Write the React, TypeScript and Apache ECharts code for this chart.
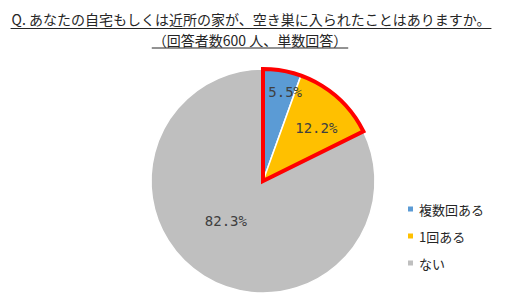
import React, { useEffect, useRef } from "react";
import * as echarts from "echarts";

const categories = ["複数回ある", "1回ある", "ない"];
const values = [5.5, 12.2, 82.3];
const colors = ["#5B9BD5", "#FFC000", "#BFBFBF"];
const highlightedIndices = [0, 1];
const titleLines = [
  "Q. あなたの自宅もしくは近所の家が、空き巣に入られたことはありますか。",
  "（回答者数600 人、単数回答）",
];
const labelOffsets = [
  [12, -31],
  [14, -9],
  [-6, -10],
];

const TITLE_FONT = "14px 'Noto Sans CJK JP'";

function measure(text: string, font: string): number {
  const c = document.createElement("canvas");
  const ctx = c.getContext("2d");
  if (!ctx) return text.length * 14;
  ctx.font = font;
  return ctx.measureText(text).width;
}

export default function App() {
  const ref = useRef<HTMLDivElement>(null);

  useEffect(() => {
    if (!ref.current) return;
    const chart = echarts.init(ref.current, null, { renderer: "svg" });

    const titleCenters = [251, 250];
    const titleY = [19, 40];
    const underlineY = [28.5, 48];
    const graphics: any[] = [];
    titleLines.forEach((t, i) => {
      const w = measure(t, TITLE_FONT);
      graphics.push({
        type: "text",
        x: titleCenters[i],
        y: titleY[i],
        style: {
          text: t,
          font: TITLE_FONT,
          fill: "#262626",
          align: "center",
          verticalAlign: "middle",
        },
      });
      graphics.push({
        type: "line",
        shape: {
          x1: titleCenters[i] - w / 2 - 1,
          y1: underlineY[i],
          x2: titleCenters[i] + w / 2 + 1,
          y2: underlineY[i],
        },
        style: { stroke: "#262626", lineWidth: 1 },
      });
    });

    const hlSum = highlightedIndices.reduce((s, i) => s + values[i], 0);
    const restSum = values.reduce((s, v) => s + v, 0) - hlSum;

    chart.setOption({
      animation: false,
      backgroundColor: "#ffffff",
      graphic: graphics,
      legend: {
        data: categories,
        orient: "vertical",
        left: 401,
        top: 197,
        itemWidth: 7,
        itemHeight: 7,
        itemGap: 13,
        icon: "rect",
        textStyle: {
          fontFamily: "'Noto Sans CJK JP'",
          fontSize: 13,
          color: "#262626",
          lineHeight: 14,
          padding: [0, 0, 0, 0],
        },
        selectedMode: false,
      },
      series: [
        {
          type: "pie",
          center: [263, 181],
          radius: [0, 112],
          startAngle: 90,
          clockwise: true,
          silent: true,
          data: categories.map((name, i) => ({
            name,
            value: values[i],
            itemStyle: { color: colors[i] },
          })),
          itemStyle: { borderColor: "#ffffff", borderWidth: 1.5 },
          label: {
            show: true,
            position: "inside",
            formatter: (p: any) => `${Number(p.value).toFixed(1)}%`,
            fontFamily: "'DejaVu Sans Mono'",
            fontSize: 14,
            color: "#404040",
          },
          labelLine: { show: false },
          labelLayout: (p: any) => ({
            dx: labelOffsets[p.dataIndex][0],
            dy: labelOffsets[p.dataIndex][1],
          }),
          emphasis: { disabled: true },
        },
        {
          type: "pie",
          center: [263, 181],
          radius: [0, 112],
          startAngle: 90,
          clockwise: true,
          silent: true,
          z: 5,
          data: [
            {
              name: "__hl",
              value: hlSum,
              itemStyle: {
                color: "rgba(0,0,0,0)",
                borderColor: "#FF0000",
                borderWidth: 4,
                borderJoin: "miter",
              },
            },
            {
              name: "__rest",
              value: restSum,
              itemStyle: { color: "rgba(0,0,0,0)", borderWidth: 0 },
            },
          ],
          label: { show: false },
          labelLine: { show: false },
          emphasis: { disabled: true },
        },
      ],
    });

    return () => chart.dispose();
  }, []);

  return (
    <div
      ref={ref}
      style={{ position: "fixed", left: 0, top: 0, width: 511, height: 308 }}
    />
  );
}
